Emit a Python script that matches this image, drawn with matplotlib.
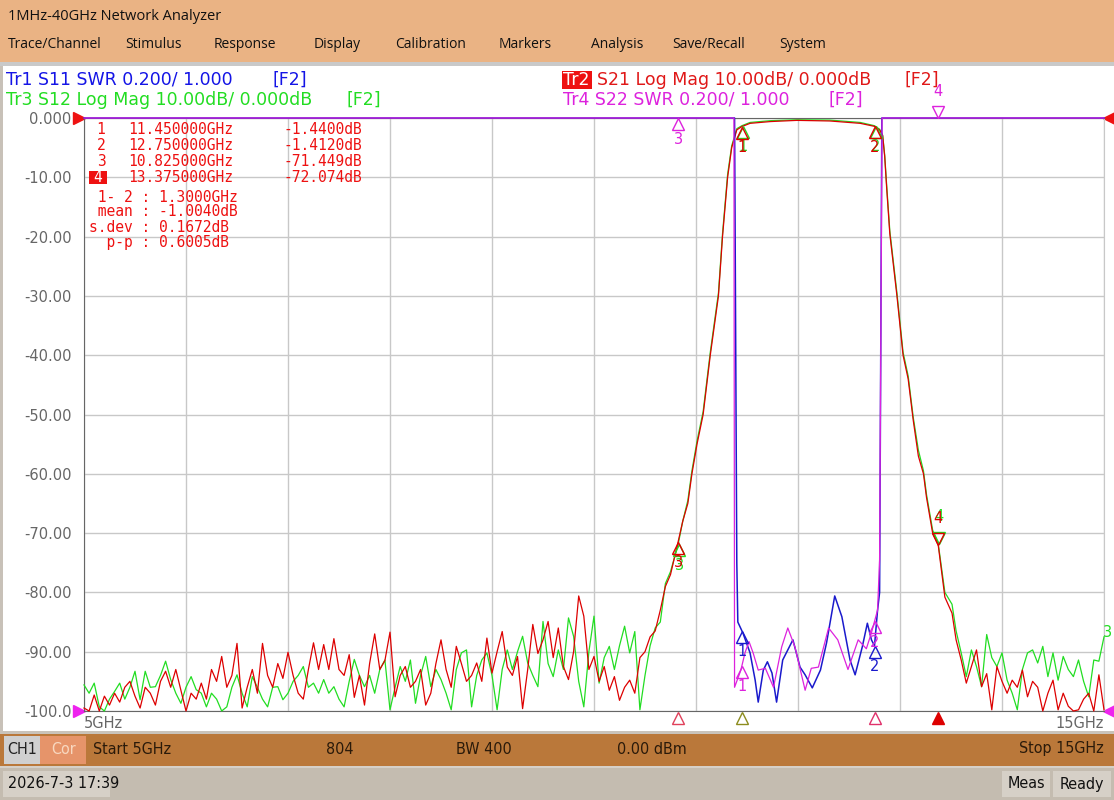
import numpy as np
import matplotlib
matplotlib.use('Agg')
import matplotlib.pyplot as plt
from matplotlib.patches import Rectangle
from matplotlib.transforms import offset_copy
from matplotlib import font_manager

W, H = 1114, 800

# ---------------- data ----------------
f_start, f_stop = 5.0, 15.0
y_ticks = [0, -10, -20, -30, -40, -50, -60, -70, -80, -90, -100]
y_tick_labels = ['0.000', '-10.00', '-20.00', '-30.00', '-40.00', '-50.00',
                 '-60.00', '-70.00', '-80.00', '-90.00', '-100.0']

# noise floor of S21 / S12, read every 50 MHz
noise_left_f = np.round(np.arange(5.0, 10.451, 0.05), 3)
s21_noise_left = [
    -99.5, -100, -97.3, -100, -97.5, -99, -97, -98.5, -96, -95,
    -97.5, -99.5, -96, -97, -99, -95, -93.3, -96, -93, -96.5,
    -100, -97, -98, -95.3, -98, -93, -95, -90.8, -96, -94,
    -88.6, -99.5, -96, -93, -97, -88.6, -94, -96, -92, -94.5,
    -90.1, -94, -97, -98, -93, -88.5, -93, -88.8, -93, -87.8,
    -93, -94, -90.5, -97.7, -94, -99, -92, -87, -93, -91.5,
    -86.7, -97.6, -94, -92.5, -96, -95, -93, -99, -97, -92,
    -88, -93, -96, -89.1, -92, -95, -94, -91.9, -95, -87.7,
    -93.6, -90, -86.6, -92.6, -94, -90.8, -99.6, -93, -85.4, -90.3,
    -88, -84.9, -91, -86, -92.5, -94.7, -90, -80.6, -84, -93,
    -90.8, -95, -92.5, -96.5, -94.2, -98.2, -96, -94.8, -97, -91]
s12_noise_left = [
    -95.6, -97, -95.3, -99.3, -100, -98, -96.7, -95.3, -98, -96,
    -93.3, -98.1, -93.3, -96, -95.9, -94, -91.6, -94.7, -97, -98.7,
    -96, -94.2, -96.4, -97, -99.3, -97, -98, -100, -99.3, -96,
    -93.9, -97, -99.3, -94.2, -96, -98, -99.3, -96, -95.9, -98.1,
    -97, -95, -94, -92.5, -96, -95.3, -97, -94.7, -97, -95.9,
    -98, -99.3, -95, -91.3, -94, -95.9, -94, -97, -93, -91.4,
    -99.8, -96, -92.5, -95, -91.4, -98.7, -94, -90.8, -95.9, -93,
    -94.7, -97, -99.8, -93, -90.2, -89.7, -99.3, -94, -91.4, -90.2,
    -94, -99.8, -93, -89.7, -93, -90, -87.4, -91.9, -94, -95.9,
    -84.9, -92, -94.2, -89.7, -93, -84.3, -87.4, -95, -99.3, -90,
    -84, -95.3, -91, -89.1, -93, -89, -85.7, -90.2, -86.6, -99.8]

noise_right_f = np.round(np.arange(13.60, 15.001, 0.05), 3)
s21_noise_right = [-91.4, -95.3, -92.5, -89.7, -95.9, -93.7, -99.8, -92.5, -95, -97,
                   -94.8, -96, -93.1, -97.6, -95, -96, -100, -97, -94.8, -99.8,
                   -97, -99.2, -100, -99.8, -98, -97, -100, -93.9, -99.8]
s12_noise_right = [-90.2, -94.2, -89.7, -92.5, -95.9, -87.1, -91, -92.5, -90.2, -94.8,
                   -97, -99.8, -93, -90.2, -89.7, -91.9, -89.1, -94.2, -90.2, -94.8,
                   -90.8, -93, -94.2, -91.4, -95, -97.6, -91.4, -91.6, -87.5]

# filter skirts and passband
skirt_f = [10.50, 10.55, 10.60, 10.65, 10.70, 10.75, 10.825, 10.87, 10.92, 10.96,
           11.01, 11.07, 11.14, 11.22, 11.26, 11.31, 11.35, 11.40, 11.45, 11.53,
           11.73, 11.99, 12.31, 12.61, 12.75, 12.80, 12.83, 12.85, 12.87, 12.90,
           12.97, 13.03, 13.08, 13.13, 13.18, 13.23, 13.26, 13.32, 13.375, 13.44,
           13.51, 13.55]
s21_skirt = [-90, -87.5, -86.5, -83, -79, -77, -71.45, -68, -65, -60,
             -55, -50, -40, -30, -20, -10, -5, -2, -1.44, -0.9,
             -0.6, -0.4, -0.5, -0.9, -1.41, -2.0, -3.0, -6.5, -12, -19.5,
             -30, -40, -44, -51, -57, -60, -64, -70, -72.07, -80.8,
             -83.5, -88]
s12_skirt = [-94, -89, -86, -85, -78.5, -76.5, -71.9, -68, -64.5, -59.5,
             -54.5, -49.5, -39.5, -29.5, -19.5, -9.5, -4.7, -1.8, -1.3, -0.75,
             -0.45, -0.3, -0.35, -0.75, -1.3, -1.9, -2.9, -6.3, -11.5, -19,
             -29.5, -39.5, -43.5, -50.5, -56, -59.5, -63.5, -69.5, -71.8, -80,
             -82, -86.5]

# S11 / S22 SWR (off-scale values sit on the top line)
s11_f = [5.0, 11.378, 11.40, 11.41, 11.46, 11.53, 11.58, 11.61, 11.66, 11.70,
         11.745, 11.79, 11.85, 11.95, 12.02, 12.07, 12.14, 12.22, 12.28, 12.36,
         12.43, 12.51, 12.56, 12.63, 12.68, 12.72, 12.75, 12.78, 12.80, 12.822, 15.0]
s11_swr = [6.0, 6.0, 1.5, 1.30, 1.263, 1.196, 1.104, 1.03, 1.138, 1.166,
           1.128, 1.03, 1.172, 1.24, 1.148, 1.122, 1.078, 1.138, 1.23, 1.388,
           1.318, 1.172, 1.122, 1.216, 1.296, 1.24, 1.22, 1.34, 1.40, 6.0, 6.0]
s22_f = [5.0, 11.372, 11.378, 11.44, 11.48, 11.52, 11.56, 11.61, 11.68, 11.76,
         11.84, 11.90, 11.97, 12.07, 12.13, 12.20, 12.30, 12.39, 12.49, 12.59,
         12.67, 12.72, 12.78, 12.80, 12.824, 15.0]
s22_swr = [6.0, 6.0, 1.08, 1.138, 1.196, 1.234, 1.196, 1.138, 1.144, 1.08,
           1.216, 1.28, 1.216, 1.07, 1.144, 1.148, 1.28, 1.24, 1.14, 1.24,
           1.21, 1.264, 1.34, 1.51, 6.0, 6.0]

marker_ids = ['1', '2', '3', '4']
marker_f = [11.45, 12.75, 10.825, 13.375]
marker_db = [-1.44, -1.412, -71.449, -72.074]
marker_f_txt = ['11.450000GHz', '12.750000GHz', '10.825000GHz', '13.375000GHz']
marker_db_txt = ['-1.4400dB', '-1.4120dB', '-71.449dB', '-72.074dB']
stats_txt = [' 1- 2 : 1.3000GHz', ' mean : -1.0040dB', 's.dev : 0.1672dB', '  p-p : 0.6005dB']

menu_items = ['Trace/Channel', 'Stimulus', 'Response', 'Display', 'Calibration',
              'Markers', 'Analysis', 'Save/Recall', 'System']
menu_x = [8, 125, 214, 314, 395, 499, 591, 672, 779]

RED, GREEN, BLUE, MAG = '#DD0000', '#22DD22', '#1A1ACC', '#DD22DD'


def swr_to_grid(s):
    return np.clip(-100 + (np.asarray(s) - 1.0) / 0.2 * 10.0, -100, 0)


fonts = font_manager.fontManager.ttflist
names = {f.name for f in fonts}
if 'Liberation Sans Narrow' in names:
    narrow = dict(family='Liberation Sans Narrow', fontsize=13)
elif any(f.name == 'DejaVu Sans' and f.stretch == 'condensed' for f in fonts):
    narrow = dict(family='DejaVu Sans', fontstretch='condensed', fontsize=11.5)
else:
    narrow = dict(family='DejaVu Sans', fontsize=10.5)
ui = 'Open Sans' if 'Open Sans' in names else 'DejaVu Sans'

fig = plt.figure(figsize=(W / 100, H / 100), dpi=100)
fig.patch.set_facecolor('white')


def frect(x0, y0, x1, y1, color, z=-5, ec='none'):
    fig.add_artist(Rectangle((x0 / W, 1 - y1 / H), (x1 - x0) / W, (y1 - y0) / H,
                             transform=fig.transFigure, facecolor=color,
                             edgecolor=ec, lw=0.8, zorder=z))


def ftext(x, y, s, **kw):
    kw.setdefault('va', 'center')
    fig.text(x / W, 1 - y / H, s, **kw)


# window chrome
frect(0, 0, W, 62, '#EAB384')
frect(0, 62, W, 66, '#C9C9C9')
frect(0, 66, 3, 731, '#C8C1B8')
frect(0, 731, W, 734, '#C9C3BA')
frect(0, 734, W, 766, '#BA783A')
frect(0, 766, W, 768, '#D6D0C8')
frect(0, 768, W, H, '#C4BCB0')
frect(4, 736, 40, 764, '#D0D0D0')
frect(40, 736, 86, 764, '#E6946A')
frect(3, 771, 110, 797, '#D6D0C7')
frect(1002, 771, 1050, 797, '#D6D0C7')
frect(1053, 771, 1111, 797, '#D6D0C7')

ftext(8, 16, '1MHz-40GHz Network Analyzer', fontsize=10.5, family=ui, color='#111111')
for name, x in zip(menu_items, menu_x):
    ftext(x, 45, name, fontsize=10, family=ui, color='#111111')

# trace headers
hs = 12.5
ftext(6, 80, 'Tr1 S11 SWR 0.200/ 1.000', fontsize=hs, color='#1414E6')
ftext(272, 80, '[F2]', fontsize=hs, color='#1414E6')
ftext(6, 100, 'Tr3 S12 Log Mag 10.00dB/ 0.000dB', fontsize=hs, color='#22DD22')
ftext(347, 100, '[F2]', fontsize=hs, color='#22DD22')
frect(562, 71, 592, 89, '#EE1111', z=1)
ftext(563, 80, 'Tr2', fontsize=hs, color='white', zorder=2)
ftext(597, 80, 'S21 Log Mag 10.00dB/ 0.000dB', fontsize=hs, color='#E01818')
ftext(905, 80, '[F2]', fontsize=hs, color='#E01818')
ftext(563, 100, 'Tr4 S22 SWR 0.200/ 1.000', fontsize=hs, color=MAG)
ftext(829, 100, '[F2]', fontsize=hs, color=MAG)

# bottom bars
ftext(22, 749, 'CH1', color='#222222', ha='center', **narrow)
ftext(64, 749, 'Cor', color='#F8D8C0', ha='center', **narrow)
ftext(93, 749, 'Start 5GHz', color='#2A1A0A', **narrow)
ftext(326, 749, '804', color='#2A1A0A', **narrow)
ftext(456, 749, 'BW 400', color='#2A1A0A', **narrow)
ftext(617, 749, '0.00 dBm', color='#2A1A0A', **narrow)
ftext(1104, 749, 'Stop 15GHz', color='#2A1A0A', ha='right', **narrow)
ftext(8, 784, '2026-7-3 17:39', color='#111111', **narrow)
ftext(1026, 784, 'Meas', color='#111111', ha='center', **narrow)
ftext(1082, 784, 'Ready', color='#111111', ha='center', **narrow)

# ---------------- plot area ----------------
ax = fig.add_axes([84 / W, 1 - 711 / H, (1104 - 84) / W, (711 - 118) / H])
ax.set_xlim(f_start, f_stop)
ax.set_ylim(-100, 0)
ax.set_xticks(np.arange(5, 16, 1))
ax.set_yticks(y_ticks, y_tick_labels)
ax.tick_params(axis='x', length=0, labelbottom=False)
ax.tick_params(axis='y', length=0, pad=9, labelsize=10.5, labelcolor='#666666')
ax.grid(True, color='#C8C8C8', lw=1.0)
ax.set_axisbelow(True)
for s in ['left', 'bottom', 'top']:
    ax.spines[s].set_color('#666666')
ax.spines['right'].set_color('#C8C8C8')

s21_f = np.concatenate([noise_left_f, skirt_f, noise_right_f])
s21_db = np.clip(np.concatenate([s21_noise_left, s21_skirt, s21_noise_right]), -100, 0)
s12_db = np.clip(np.concatenate([s12_noise_left, s12_skirt, s12_noise_right]), -100, 0)

ax.plot(s21_f, s12_db, color=GREEN, lw=0.9, clip_on=False, zorder=3)
ax.plot(s21_f, s21_db, color=RED, lw=0.9, clip_on=False, zorder=4)
ax.plot(s11_f, swr_to_grid(s11_swr), color=BLUE, lw=1.1, clip_on=False, zorder=5)
ax.plot(s22_f, swr_to_grid(s22_swr), color=MAG, lw=0.9, clip_on=False, zorder=6)


def off(dx=0, dy=0):
    return offset_copy(ax.transData, fig=fig, x=dx, y=dy, units='dots')


def marker(f, d, color, label, up=True, dx=0, z=8):
    if up:
        ax.plot([f], [d], marker='^', ms=8.5, mfc='none', mec=color, mew=1.0,
                transform=off(dx, -6), clip_on=False, zorder=z)
        ax.text(f, d, label, transform=off(dx, -21), ha='center', va='center',
                fontsize=10.5, color=color, zorder=z)
    else:
        ax.plot([f], [d], marker='v', ms=8.5, mfc='none', mec=color, mew=1.0,
                transform=off(dx, 6), clip_on=False, zorder=z)
        ax.text(f, d, label, transform=off(dx, 27), ha='center', va='center',
                fontsize=10.5, color=color, zorder=z)


s12_at = np.interp(marker_f, s21_f, s12_db)
for i, (mid, f, d) in enumerate(zip(marker_ids, marker_f, marker_db)):
    up = mid != '4'
    marker(f, s12_at[i], GREEN, mid, up=up, dx=1, z=8)
    marker(f, d, RED, mid, up=up, dx=0, z=9)

s11_grid = swr_to_grid(s11_swr)
s22_grid = swr_to_grid(s22_swr)
for mid, f in zip(marker_ids[:2], marker_f[:2]):
    marker(f, np.interp(f, s11_f, s11_grid), BLUE, mid, z=10)
    marker(f, np.interp(f, s22_f, s22_grid), MAG, mid, z=11)
# S22 markers 3 and 4 are off the top of the screen
marker(marker_f[2], 0, MAG, '3', up=True, z=11)
marker(marker_f[3], 0, MAG, '4', up=False, z=11)

# stimulus position indicators under the grid
stim_colors = ['#8C8C1E', '#E0306A', '#E0405A', RED]
for f, c, fill in zip(marker_f, stim_colors, [False, False, False, True]):
    ax.plot([f], [-100], marker='^', ms=8.5, mfc=c if fill else 'none', mec=c,
            mew=1.0, transform=off(0, -7), clip_on=False, zorder=9)

# reference position arrows
ax.plot([f_start], [0], marker='>', ms=8, color='#EE1111', transform=off(-5, 0), clip_on=False)
ax.plot([f_start], [-100], marker='>', ms=8, color='#EE22EE', transform=off(-5, 0), clip_on=False)
ax.plot([f_stop], [0], marker='<', ms=8, color='#EE1111', transform=off(5, 0), clip_on=False)
ax.plot([f_stop], [-100], marker='<', ms=8, color='#EE22EE', transform=off(5, 0), clip_on=False)
ax.text(f_stop, s12_db[-1], '3', transform=off(4, 4), ha='center', va='center',
        fontsize=10.5, color=GREEN, clip_on=False)

ftext(84, 723, '5GHz', fontsize=10.5, color='#666666')
ftext(1104, 723, '15GHz', fontsize=10.5, color='#666666', ha='right')

# marker readout table
mono = dict(family='DejaVu Sans Mono', fontsize=10.5, color='#EE1111')
row_y = [129, 145, 161, 177]
for mid, ft, dt, y in zip(marker_ids, marker_f_txt, marker_db_txt, row_y):
    if mid == '4':
        frect(89, 171, 107, 184, '#EE1111', z=2)
        ftext(98, y, mid, ha='center', zorder=3, **{**mono, 'color': 'white'})
    else:
        ftext(101, y, mid, ha='center', **mono)
    ftext(128, y, ft, **mono)
    ftext(283, y, dt, **mono)
for s, y in zip(stats_txt, [197, 212, 227, 243]):
    ftext(89, y, s, **mono)

fig.savefig('out.png', dpi=100)
